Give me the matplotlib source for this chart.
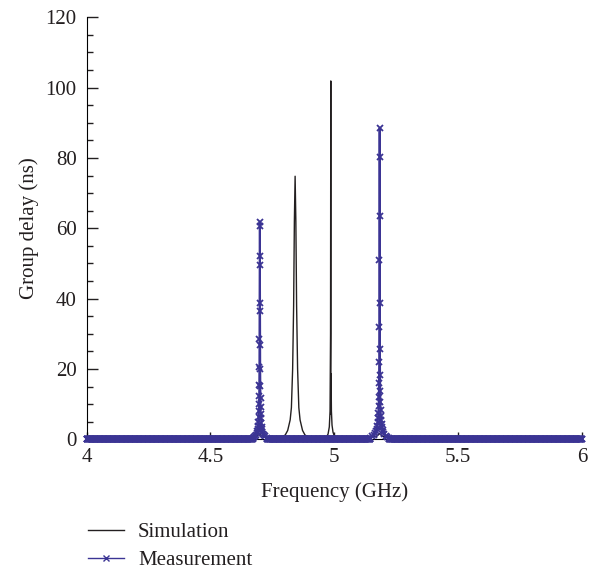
"""
Group delay: simulation vs. measurement
"""

import matplotlib
matplotlib.use('Agg')
import matplotlib.pyplot as plt
import numpy as np
from matplotlib.lines import Line2D
from matplotlib.ticker import MultipleLocator

plt.rcParams['font.family'] = ['Liberation Serif', 'DejaVu Serif']
plt.rcParams['font.size'] = 15

# Simulation (black trace): two resonances + small bumps under the measured peaks
sim_freq = [4.000, 4.600, 4.660, 4.690, 4.698, 4.706, 4.740, 4.782, 4.802, 4.812,
            4.822, 4.827, 4.832, 4.836, 4.839, 4.842, 4.845, 4.848, 4.852, 4.857,
            4.862, 4.872, 4.882, 4.902, 4.940, 4.960, 4.970, 4.975, 4.980, 4.983,
            4.985, 4.986, 4.9866, 4.9872, 4.9885, 4.991, 4.995, 5.000, 5.010, 5.030,
            5.100, 5.170, 5.183, 5.196, 5.260, 5.600, 6.000]
sim_delay = [0.1, 0.2, 0.4, 1.0, 1.6, 1.0, 0.4, 0.4, 1.2, 2.5,
             5.5, 9.0, 20.0, 38.0, 62.0, 74.8, 62.0, 38.0, 20.0, 9.0,
             5.5, 2.5, 1.2, 0.4, 0.2, 0.3, 0.8, 1.5, 3.5, 8.0,
             30.0, 101.9, 7.2, 18.6, 8.0, 4.0, 2.0, 1.0, 0.5, 0.2,
             0.2, 0.8, 1.6, 0.8, 0.2, 0.1, 0.1]

# Measurement (blue, x markers): resonance near 4.70 GHz
meas1_freq = [4.670, 4.675, 4.680, 4.684, 4.687, 4.689, 4.6905, 4.692, 4.6932, 4.6945,
              4.6953, 4.6962, 4.6968, 4.6973, 4.6977, 4.6981, 4.6985, 4.6989, 4.6993,
              4.6997, 4.7001, 4.7005, 4.7009, 4.7013, 4.7018, 4.7023, 4.7029, 4.7036,
              4.7045, 4.7058, 4.7070, 4.7085, 4.7100, 4.7130, 4.7170, 4.7220, 4.7280]
meas1_delay = [0.4, 0.6, 0.9, 1.3, 1.8, 2.4, 3.0, 3.8, 4.8, 6.4,
               7.9, 10.0, 12.3, 15.5, 20.5, 28.4, 38.8, 52.1, 61.9,
               60.6, 49.6, 36.6, 26.8, 19.9, 15.2, 11.7, 9.3, 7.3,
               6.0, 4.6, 3.6, 2.8, 2.2, 1.6, 1.1, 0.8, 0.5]

# Measurement: resonance near 5.18 GHz
meas2_freq = [5.145, 5.152, 5.159, 5.164, 5.168, 5.171, 5.173, 5.1748, 5.1763, 5.1776,
              5.1787, 5.1796, 5.1804, 5.1811, 5.1817, 5.1822, 5.1826, 5.1830,
              5.1834, 5.1838, 5.1843, 5.1849, 5.1856, 5.1864, 5.1873, 5.1884, 5.1897,
              5.1912, 5.1930, 5.1950, 5.1980, 5.2020, 5.2070, 5.2140, 5.2210]
meas2_delay = [0.5, 0.8, 1.2, 1.7, 2.3, 3.0, 3.8, 4.8, 6.0, 7.5,
               9.4, 12.1, 16.1, 21.9, 32.0, 51.0, 80.4, 88.4,
               63.6, 38.7, 25.6, 18.4, 13.8, 10.6, 8.4, 6.7, 5.4,
               4.3, 3.4, 2.6, 2.0, 1.4, 1.0, 0.6, 0.4]

# flat part of the measured sweep (1601 points from 4 to 6 GHz)
meas_floor = 0.1
sweep = np.linspace(4.0, 6.0, 1601)

# assemble the measured trace
mask = ~(((sweep > meas1_freq[0]) & (sweep < meas1_freq[-1])) |
         ((sweep > meas2_freq[0]) & (sweep < meas2_freq[-1])))
meas_freq = np.concatenate([sweep[mask], meas1_freq, meas2_freq])
meas_delay = np.concatenate([np.full(mask.sum(), meas_floor), meas1_delay, meas2_delay])
order = np.argsort(meas_freq)
meas_freq = meas_freq[order]
meas_delay = meas_delay[order]

SIM_COLOR = '#231f20'
MEAS_COLOR = '#3b3494'
TEXT_COLOR = '#231f20'

fig = plt.figure(figsize=(5.97, 5.69), dpi=100)
ax = fig.add_axes([0.1449, 0.228, 0.830, 0.7416])

ax.plot(sim_freq, sim_delay, color=SIM_COLOR, linewidth=1.0, zorder=2)
ax.plot(meas_freq, meas_delay, color=MEAS_COLOR, linewidth=1.4, marker='x',
        markersize=5, markeredgewidth=1.3, clip_on=False, zorder=3)

ax.set_xlim(4, 6)
ax.set_ylim(0, 120)
ax.yaxis.set_major_locator(MultipleLocator(20))
ax.yaxis.set_minor_locator(MultipleLocator(5))
ax.set_xticks([4, 4.5, 5, 5.5, 6])
ax.set_xticklabels(['4', '4.5', '5', '5.5', '6'])

ax.spines['top'].set_visible(False)
ax.spines['right'].set_visible(False)
ax.tick_params(axis='both', which='major', direction='in', length=8, width=1.0,
               colors=TEXT_COLOR, labelcolor=TEXT_COLOR)
ax.tick_params(axis='y', which='minor', direction='in', length=4, width=1.0,
               colors=TEXT_COLOR)
ax.tick_params(axis='x', which='major', length=5, pad=6)
ax.tick_params(axis='y', which='major', pad=7)

ax.set_xlabel('Frequency (GHz)', color=TEXT_COLOR, labelpad=11)
ax.set_ylabel('Group delay (ns)', color=TEXT_COLOR, labelpad=5)

handles = [
    Line2D([], [], color=SIM_COLOR, linewidth=1.0),
    Line2D([], [], color=MEAS_COLOR, linewidth=1.0, marker='x', markersize=4,
           markeredgewidth=1.0),
]
fig.legend(handles, ['Simulation', 'Measurement'], loc='upper left',
           bbox_to_anchor=(0.13, 0.10), frameon=False, handlelength=1.75,
           handletextpad=0.65, labelspacing=0.4, borderpad=0.0,
           labelcolor=TEXT_COLOR)

fig.savefig('out.png', dpi=100)
